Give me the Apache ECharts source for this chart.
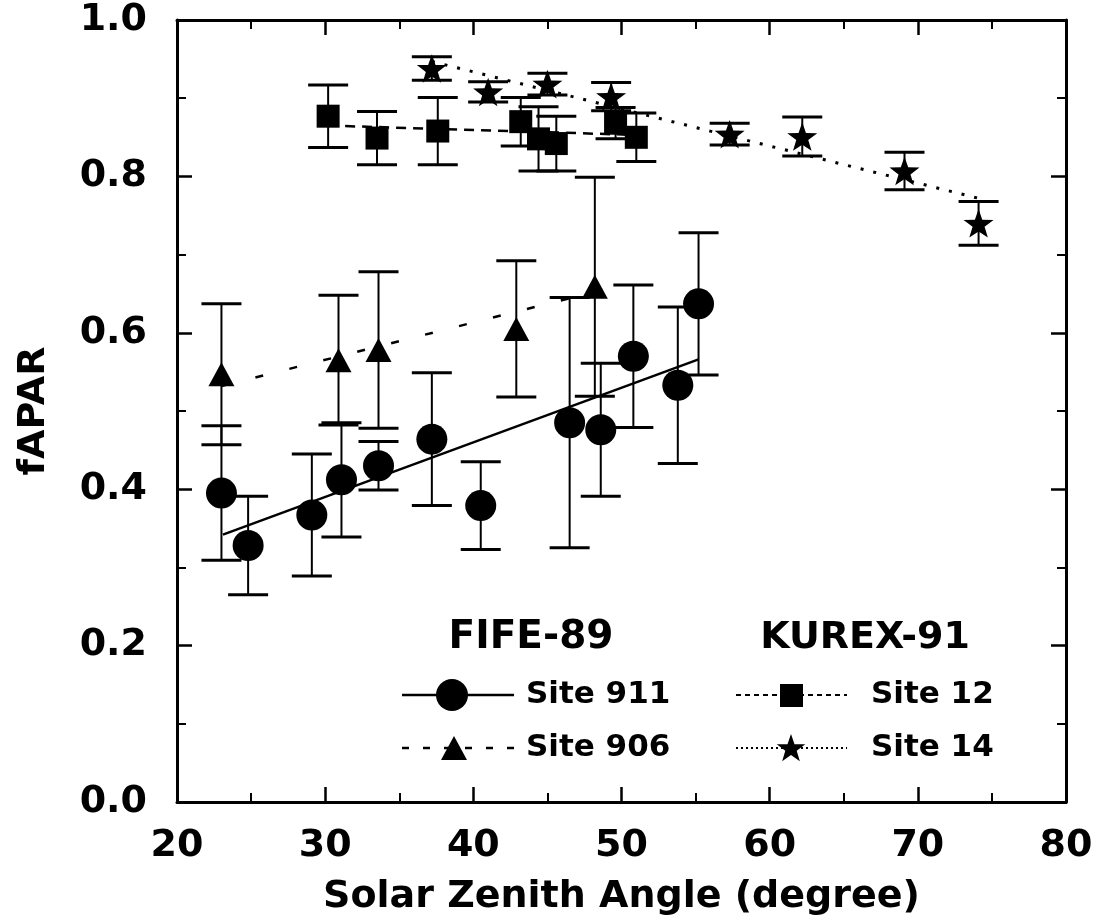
<!DOCTYPE html>
<html><head><meta charset="utf-8">
<script src="https://cdn.jsdelivr.net/npm/echarts@6/dist/echarts.min.js"></script>
<style>html,body{margin:0;padding:0;background:#fff}#c{width:1107px;height:921px}</style>
</head><body><div id="c"></div>
<script>
// ---- data ----
const site911X   = [23.0, 24.8, 29.1, 31.1, 33.6, 37.2, 40.5, 46.5, 48.6, 50.8, 53.8, 55.2];
const site911Y   = [0.395, 0.328, 0.367, 0.412, 0.430, 0.464, 0.379, 0.485, 0.476, 0.570, 0.533, 0.637];
const site911Err = [0.086, 0.063, 0.078, 0.073, 0.031, 0.085, 0.056, 0.160, 0.085, 0.091, 0.100, 0.091];
const site911Fit = [[23.1, 0.342], [55.2, 0.566]];

const site906X   = [23.0, 30.9, 33.6, 42.9, 48.2];
const site906Y   = [0.547, 0.565, 0.578, 0.605, 0.659];
const site906Err = [0.090, 0.083, 0.100, 0.087, 0.140];
const site906Fit = [[23.0, 0.532], [49.8, 0.660]];

const site12X    = [30.2, 33.5, 37.6, 43.2, 44.4, 45.6, 49.6, 51.0];
const site12Y    = [0.877, 0.849, 0.858, 0.870, 0.848, 0.842, 0.868, 0.850];
const site12Err  = [0.040, 0.034, 0.043, 0.031, 0.041, 0.035, 0.020, 0.031];
const site12Fit  = [[30.2, 0.865], [51.0, 0.853]];

const site14X    = [37.2, 41.0, 45.0, 49.3, 57.3, 62.2, 69.1, 74.1];
const site14Y    = [0.938, 0.908, 0.918, 0.902, 0.854, 0.851, 0.807, 0.740];
const site14Err  = [0.015, 0.013, 0.014, 0.018, 0.014, 0.025, 0.024, 0.028];
const site14Fit  = [[37.2, 0.947], [74.1, 0.772]];

const xTicks = [20, 30, 40, 50, 60, 70, 80];
const yTicks = [0.0, 0.2, 0.4, 0.6, 0.8, 1.0];
const xTitle = 'Solar Zenith Angle (degree)';
const yTitle = 'fAPAR';
const groupTitles = ['FIFE-89', 'KUREX-91'];
const siteNames = ['Site 911', 'Site 906', 'Site 12', 'Site 14'];

// ---- chart ----
const FONT = '"DejaVu Sans", "Liberation Sans", Arial, sans-serif';
const STAR = 'path://M0,-10 L2.35,-3.24 L9.51,-3.09 L3.8,1.24 L5.88,8.09 L0,4.2 L-5.88,8.09 L-3.8,1.24 L-9.51,-3.09 L-2.35,-3.24 Z';

function pts(xs, ys) { return xs.map((x, i) => [x, ys[i]]); }

function starPoints(cx, cy, R, r) {
  const p = [];
  for (let k = 0; k < 10; k++) {
    const a = -Math.PI / 2 + k * Math.PI / 5;
    const rad = k % 2 === 0 ? R : r;
    p.push([cx + rad * Math.cos(a), cy + rad * Math.sin(a)]);
  }
  return p;
}

function errSeries(xs, ys, es) {
  return {
    type: 'custom', z: 3, silent: true, clip: false,
    data: xs.map((x, i) => [x, ys[i] - es[i], ys[i] + es[i]]),
    encode: { x: 0, y: [1, 2] },
    renderItem: (params, api) => {
      const x = api.value(0);
      const lo = api.coord([x, api.value(1)]);
      const hi = api.coord([x, api.value(2)]);
      const hw = 20;
      return { type: 'group', children: [
        { type: 'line', shape: { x1: lo[0], y1: lo[1], x2: hi[0], y2: hi[1] }, style: { stroke: '#000', lineWidth: 2 } },
        { type: 'line', shape: { x1: lo[0] - hw, y1: lo[1], x2: lo[0] + hw, y2: lo[1] }, style: { stroke: '#000', lineWidth: 3 } },
        { type: 'line', shape: { x1: hi[0] - hw, y1: hi[1], x2: hi[0] + hw, y2: hi[1] }, style: { stroke: '#000', lineWidth: 3 } }
      ]};
    }
  };
}
function fitSeries(data, dash, width) {
  return { type: 'line', z: 2, data: data, showSymbol: false, silent: true,
    lineStyle: { color: '#000', width: width, type: dash } };
}
function scatterSeries(xs, ys, symbol, size) {
  return { type: 'scatter', z: 4, data: pts(xs, ys), symbol: symbol, symbolSize: size,
    symbolKeepAspect: true, itemStyle: { color: '#000', opacity: 1 }, silent: true };
}

const axisLine = { show: true, onZero: false, lineStyle: { color: '#000', width: 3 } };
const axisTick = { show: true, inside: true, length: 15, lineStyle: { color: '#000', width: 2.5 } };
const minorTick = { show: true, splitNumber: 2, length: 9, lineStyle: { color: '#000', width: 2 } };
const labelStyle = { color: '#000', fontFamily: FONT, fontWeight: 'bold', fontSize: 38 };

function txt(x, y, s, size, align) {
  return { type: 'text', x: x, y: y, style: { text: s, font: 'bold ' + size + 'px ' + FONT, fill: '#000',
    align: align, verticalAlign: 'middle', textAlign: align, textVerticalAlign: 'middle' } };
}

const option = {
  animation: false,
  backgroundColor: '#fff',
  grid: { left: 177, right: 41, top: 20, bottom: 117 },
  xAxis: [
    { type: 'value', min: xTicks[0], max: xTicks[xTicks.length - 1], interval: 10, position: 'bottom',
      axisLine, axisTick, minorTick, splitLine: { show: false },
      axisLabel: Object.assign({ margin: 25, formatter: v => String(v) }, labelStyle),
      name: xTitle, nameLocation: 'middle', nameGap: 76,
      nameTextStyle: { color: '#000', fontFamily: FONT, fontWeight: 'bold', fontSize: 38 } },
    { type: 'value', min: xTicks[0], max: xTicks[xTicks.length - 1], interval: 10, position: 'top',
      axisLine, axisTick, minorTick, splitLine: { show: false }, axisLabel: { show: false } }
  ],
  yAxis: [
    { type: 'value', min: yTicks[0], max: yTicks[yTicks.length - 1], interval: 0.2, position: 'left',
      axisLine, axisTick, minorTick, splitLine: { show: false },
      axisLabel: Object.assign({ margin: 30, formatter: v => v.toFixed(1) }, labelStyle),
      name: yTitle, nameLocation: 'middle', nameGap: 124,
      nameTextStyle: { color: '#000', fontFamily: FONT, fontWeight: 'bold', fontSize: 38 } },
    { type: 'value', min: yTicks[0], max: yTicks[yTicks.length - 1], interval: 0.2, position: 'right',
      axisLine, axisTick, minorTick, splitLine: { show: false }, axisLabel: { show: false } }
  ],
  series: [
    fitSeries(site911Fit, 'solid', 2.5),
    fitSeries(site906Fit, [8, 27], 2.5),
    fitSeries(site12Fit, [10, 7], 2.5),
    fitSeries(site14Fit, [3, 10], 3),
    errSeries(site911X, site911Y, site911Err),
    errSeries(site906X, site906Y, site906Err),
    errSeries(site12X, site12Y, site12Err),
    errSeries(site14X, site14Y, site14Err),
    scatterSeries(site911X, site911Y, 'circle', 31),
    scatterSeries(site906X, site906Y, 'triangle', [26, 24]),
    scatterSeries(site12X, site12Y, 'rect', 23),
    scatterSeries(site14X, site14Y, STAR, 30)
  ],
  graphic: [
    txt(531, 638, groupTitles[0], 39, 'center'),
    txt(865, 638, groupTitles[1], 38, 'center'),
    { type: 'line', shape: { x1: 402, y1: 695, x2: 514, y2: 695 }, style: { stroke: '#000', lineWidth: 2.5 } },
    { type: 'circle', shape: { cx: 452, cy: 695, r: 16 }, style: { fill: '#000' } },
    txt(526, 695, siteNames[0], 31, 'left'),
    { type: 'line', shape: { x1: 402, y1: 748, x2: 514, y2: 748 }, style: { stroke: '#000', lineWidth: 2.5, lineDash: [7, 14] } },
    { type: 'polygon', shape: { points: [[454, 736], [467, 760], [441, 760]] }, style: { fill: '#000' } },
    txt(526, 748, siteNames[1], 31, 'left'),
    { type: 'line', shape: { x1: 736, y1: 695, x2: 847, y2: 695 }, style: { stroke: '#000', lineWidth: 2, lineDash: [5, 4] } },
    { type: 'rect', shape: { x: 780, y: 684, width: 23, height: 23 }, style: { fill: '#000' } },
    txt(871, 695, siteNames[2], 31, 'left'),
    { type: 'line', shape: { x1: 736, y1: 748, x2: 847, y2: 748 }, style: { stroke: '#000', lineWidth: 2, lineDash: [2, 3] } },
    { type: 'polygon', shape: { points: starPoints(791, 749, 15, 6) }, style: { fill: '#000' } },
    txt(871, 748, siteNames[3], 31, 'left')
  ]
};

const chart = echarts.init(document.getElementById('c'), null, { renderer: 'canvas' });
chart.setOption(option);
</script>
</body></html>
